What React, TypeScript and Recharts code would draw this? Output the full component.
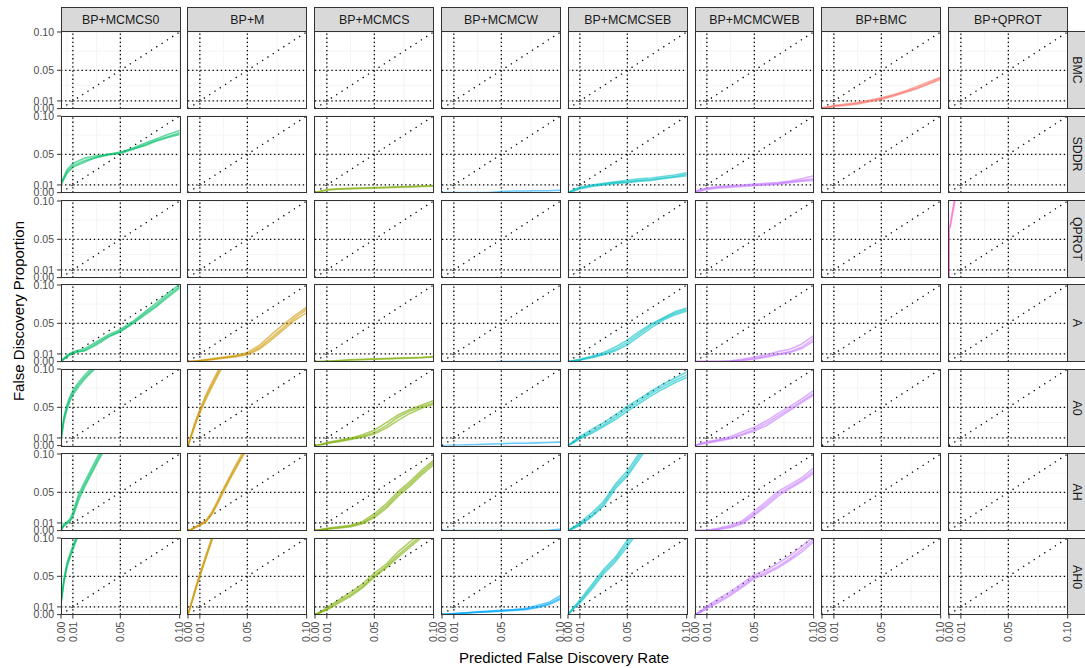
import React from 'react';
import { LineChart, Line, XAxis, YAxis, ReferenceLine } from 'recharts';

// facet labels
const methods = ['BP+MCMCS0', 'BP+M', 'BP+MCMCS', 'BP+MCMCW', 'BP+MCMCSEB', 'BP+MCMCWEB', 'BP+BMC', 'BP+QPROT'];
const scenarios = ['BMC', 'SDDR', 'QPROT', 'A', 'A0', 'AH', 'AH0'];
const methodColors = ['#00BE67', '#CD9600', '#7CAE00', '#00A9FF', '#00BFC4', '#C77CFF', '#F8766D', '#FF61CC'];

const axisTicks = [0, 0.01, 0.05, 0.1];
const majorGrid = [0, 0.01, 0.05, 0.1];
const minorGrid = [0.005, 0.03, 0.075];
const guideLevels = [0.01, 0.05];

// predicted FDR (x) grids
const fdrGrid = [0, 0.005, 0.01, 0.02, 0.03, 0.04, 0.05, 0.06, 0.07, 0.08, 0.09, 0.1];
const fdrSteep = [0, 0.0025, 0.005, 0.0075, 0.01, 0.015, 0.02, 0.025, 0.03, 0.035, 0.04, 0.045, 0.05];
const fdrQprot = [0, 0, 0.001, 0.002, 0.003, 0.004, 0.005];
const fdrTail = [0.045, 0.07, 0.1];

// false discovery proportion (y), one array per replicate
const bmcBmc = [
  [0.001, 0.002, 0.003, 0.005, 0.007, 0.010, 0.013, 0.017, 0.022, 0.027, 0.033, 0.040],
  [0.001, 0.002, 0.004, 0.006, 0.008, 0.011, 0.014, 0.018, 0.023, 0.029, 0.035, 0.041],
  [0.000, 0.001, 0.003, 0.004, 0.006, 0.009, 0.012, 0.016, 0.021, 0.026, 0.032, 0.038],
];

const sddrMcmcs0 = [
  [0.010, 0.027, 0.035, 0.042, 0.046, 0.049, 0.051, 0.056, 0.062, 0.068, 0.073, 0.078],
  [0.012, 0.030, 0.038, 0.045, 0.048, 0.050, 0.052, 0.058, 0.064, 0.070, 0.076, 0.081],
  [0.011, 0.025, 0.033, 0.040, 0.046, 0.050, 0.053, 0.057, 0.061, 0.067, 0.072, 0.076],
];
const sddrMcmcs = [
  [0, 0.002, 0.004, 0.005, 0.0055, 0.006, 0.0065, 0.007, 0.0075, 0.008, 0.0085, 0.009],
  [0, 0.0015, 0.003, 0.0045, 0.005, 0.0055, 0.006, 0.0065, 0.007, 0.0075, 0.008, 0.0085],
];
const sddrMcmcw = [
  [0, 0, 0, 0, 0, 0, 0.0015, 0.002, 0.002, 0.0025, 0.0025, 0.003],
];
const sddrMcmcseb = [
  [0, 0.003, 0.006, 0.009, 0.011, 0.013, 0.014, 0.016, 0.017, 0.019, 0.021, 0.024],
  [0, 0.004, 0.007, 0.010, 0.012, 0.014, 0.016, 0.018, 0.019, 0.021, 0.023, 0.026],
  [0, 0.002, 0.005, 0.008, 0.010, 0.012, 0.013, 0.015, 0.016, 0.018, 0.020, 0.022],
];
const sddrMcmcweb = [
  [0.001, 0.003, 0.005, 0.007, 0.008, 0.009, 0.010, 0.011, 0.012, 0.014, 0.016, 0.018],
  [0.002, 0.004, 0.006, 0.008, 0.009, 0.010, 0.011, 0.012, 0.013, 0.015, 0.018, 0.022],
  [0.001, 0.002, 0.004, 0.006, 0.007, 0.008, 0.009, 0.010, 0.011, 0.013, 0.015, 0.016],
];

const qprotQprot = [
  [0, 0.064, 0.066, 0.075, 0.084, 0.092, 0.101],
  [0, 0.066, 0.068, 0.078, 0.087, 0.096, 0.105],
];

const aMcmcs0 = [
  [0, 0.006, 0.011, 0.015, 0.024, 0.033, 0.040, 0.050, 0.062, 0.073, 0.086, 0.098],
  [0.001, 0.008, 0.013, 0.017, 0.026, 0.035, 0.042, 0.052, 0.064, 0.076, 0.089, 0.101],
  [0, 0.007, 0.012, 0.014, 0.022, 0.032, 0.039, 0.049, 0.060, 0.071, 0.084, 0.096],
];
const aM = [
  [0, 0.0005, 0.001, 0.003, 0.005, 0.007, 0.010, 0.018, 0.031, 0.044, 0.057, 0.068],
  [0, 0.0005, 0.0015, 0.0035, 0.006, 0.008, 0.012, 0.021, 0.035, 0.048, 0.060, 0.071],
  [0, 0.0005, 0.001, 0.0025, 0.0045, 0.0065, 0.009, 0.016, 0.028, 0.041, 0.054, 0.064],
];
const aMcmcs = [
  [0, 0, 0.0003, 0.001, 0.002, 0.0025, 0.003, 0.0035, 0.004, 0.0045, 0.005, 0.006],
  [0, 0, 0.0005, 0.0015, 0.0025, 0.003, 0.0035, 0.004, 0.0045, 0.005, 0.0055, 0.0065],
];
const aMcmcw = [[0, 0, 0]];
const aMcmcseb = [
  [0, 0.001, 0.002, 0.006, 0.010, 0.016, 0.025, 0.036, 0.047, 0.056, 0.063, 0.068],
  [0, 0.0015, 0.003, 0.007, 0.012, 0.019, 0.028, 0.039, 0.049, 0.057, 0.065, 0.070],
  [0, 0.001, 0.002, 0.005, 0.009, 0.014, 0.022, 0.033, 0.044, 0.054, 0.061, 0.066],
];
const aMcmcweb = [
  [0, 0, 0, 0, 0.0005, 0.002, 0.004, 0.007, 0.010, 0.013, 0.019, 0.030],
  [0, 0, 0, 0, 0.001, 0.003, 0.006, 0.009, 0.013, 0.016, 0.023, 0.034],
  [0, 0, 0, 0, 0.0005, 0.0015, 0.003, 0.006, 0.009, 0.012, 0.017, 0.027],
];

const a0Mcmcs0 = [
  [0.008, 0.035, 0.050, 0.061, 0.069, 0.080, 0.089, 0.097, 0.105, 0.112, 0.119, 0.126, 0.133],
  [0.010, 0.038, 0.053, 0.064, 0.072, 0.083, 0.092, 0.100, 0.108, 0.115, 0.122, 0.129, 0.136],
  [0.006, 0.032, 0.047, 0.058, 0.066, 0.077, 0.087, 0.095, 0.102, 0.109, 0.116, 0.123, 0.130],
];
const a0M = [
  [0, 0.012, 0.024, 0.035, 0.045, 0.063, 0.079, 0.094, 0.108, 0.121, 0.133, 0.145, 0.157],
  [0, 0.013, 0.026, 0.037, 0.047, 0.066, 0.082, 0.097, 0.111, 0.124, 0.136, 0.148, 0.160],
  [0, 0.011, 0.022, 0.033, 0.043, 0.060, 0.076, 0.091, 0.105, 0.118, 0.130, 0.142, 0.154],
];
const a0Mcmcs = [
  [0, 0.001, 0.003, 0.006, 0.009, 0.012, 0.017, 0.026, 0.037, 0.045, 0.051, 0.056],
  [0, 0.0015, 0.004, 0.007, 0.010, 0.014, 0.020, 0.030, 0.040, 0.047, 0.053, 0.059],
  [0, 0.001, 0.003, 0.005, 0.008, 0.011, 0.015, 0.023, 0.033, 0.042, 0.049, 0.054],
];
const a0Mcmcw = [
  [0, 0, 0.0005, 0.001, 0.0015, 0.002, 0.0025, 0.003, 0.003, 0.0035, 0.004, 0.0045],
];
const a0Mcmcseb = [
  [0, 0.005, 0.010, 0.018, 0.027, 0.037, 0.048, 0.058, 0.068, 0.077, 0.085, 0.092],
  [0, 0.006, 0.012, 0.021, 0.030, 0.040, 0.051, 0.061, 0.071, 0.080, 0.088, 0.096],
  [0, 0.004, 0.009, 0.016, 0.025, 0.034, 0.045, 0.055, 0.065, 0.074, 0.082, 0.089],
];
const a0Mcmcweb = [
  [0, 0.002, 0.004, 0.007, 0.010, 0.015, 0.021, 0.029, 0.039, 0.048, 0.058, 0.068],
  [0, 0.003, 0.005, 0.008, 0.012, 0.018, 0.024, 0.032, 0.042, 0.051, 0.061, 0.072],
  [0, 0.002, 0.003, 0.006, 0.009, 0.014, 0.019, 0.026, 0.036, 0.046, 0.056, 0.066],
];

const ahMcmcs0 = [
  [0.001, 0.007, 0.010, 0.013, 0.020, 0.044, 0.060, 0.075, 0.090, 0.104, 0.118, 0.132, 0.146],
  [0.002, 0.009, 0.011, 0.015, 0.024, 0.048, 0.064, 0.079, 0.094, 0.108, 0.122, 0.136, 0.150],
  [0, 0.006, 0.009, 0.012, 0.018, 0.040, 0.057, 0.072, 0.087, 0.101, 0.115, 0.129, 0.143],
];
const ahM = [
  [0, 0.001, 0.003, 0.005, 0.007, 0.012, 0.022, 0.037, 0.053, 0.068, 0.082, 0.096, 0.110],
  [0, 0.0015, 0.004, 0.006, 0.008, 0.013, 0.024, 0.039, 0.055, 0.070, 0.085, 0.099, 0.113],
  [0, 0.001, 0.003, 0.005, 0.007, 0.011, 0.021, 0.035, 0.051, 0.066, 0.080, 0.094, 0.107],
];
const ahMcmcs = [
  [0, 0.001, 0.002, 0.004, 0.006, 0.010, 0.019, 0.032, 0.048, 0.061, 0.076, 0.089],
  [0, 0.0015, 0.003, 0.005, 0.007, 0.012, 0.022, 0.035, 0.051, 0.064, 0.079, 0.092],
  [0, 0.001, 0.002, 0.003, 0.005, 0.009, 0.017, 0.029, 0.045, 0.058, 0.073, 0.086],
];
const ahMcmcw = [
  [0, 0, 0, 0, 0, 0, 0, 0, 0, 0, 0.0005, 0.002],
];
const ahMcmcseb = [
  [0, 0.004, 0.008, 0.020, 0.035, 0.058, 0.074, 0.097, 0.120, 0.140, 0.160, 0.180],
  [0, 0.005, 0.010, 0.023, 0.038, 0.061, 0.078, 0.101, 0.124, 0.145, 0.165, 0.185],
  [0, 0.003, 0.007, 0.018, 0.032, 0.055, 0.071, 0.093, 0.116, 0.136, 0.156, 0.176],
];
const ahMcmcweb = [
  [0, 0, 0, 0.002, 0.005, 0.011, 0.022, 0.035, 0.048, 0.057, 0.066, 0.078],
  [0, 0, 0.0005, 0.003, 0.007, 0.013, 0.025, 0.038, 0.051, 0.060, 0.069, 0.082],
  [0, 0, 0, 0.0015, 0.004, 0.009, 0.020, 0.032, 0.045, 0.055, 0.064, 0.075],
];

const ah0Mcmcs0 = [
  [0.015, 0.044, 0.064, 0.076, 0.087, 0.107, 0.125, 0.140, 0.155, 0.170, 0.185, 0.200, 0.215],
  [0.017, 0.047, 0.067, 0.079, 0.090, 0.110, 0.128, 0.143, 0.158, 0.173, 0.188, 0.203, 0.218],
  [0.014, 0.042, 0.062, 0.074, 0.085, 0.105, 0.122, 0.137, 0.152, 0.167, 0.182, 0.197, 0.212],
];
const ah0M = [
  [0, 0.013, 0.026, 0.039, 0.051, 0.075, 0.098, 0.120, 0.140, 0.160, 0.180, 0.200, 0.220],
  [0, 0.014, 0.028, 0.041, 0.053, 0.077, 0.100, 0.122, 0.142, 0.162, 0.182, 0.202, 0.222],
  [0, 0.012, 0.025, 0.038, 0.050, 0.073, 0.096, 0.118, 0.138, 0.158, 0.178, 0.198, 0.218],
];
const ah0Mcmcs = [
  [0, 0.003, 0.007, 0.017, 0.026, 0.037, 0.051, 0.063, 0.078, 0.091, 0.104, 0.117],
  [0, 0.004, 0.009, 0.019, 0.029, 0.040, 0.054, 0.066, 0.082, 0.095, 0.108, 0.121],
  [0, 0.003, 0.006, 0.015, 0.024, 0.035, 0.049, 0.061, 0.075, 0.088, 0.101, 0.114],
];
const ah0Mcmcw = [
  [0, 0.0005, 0.001, 0.002, 0.003, 0.004, 0.005, 0.006, 0.007, 0.010, 0.014, 0.022],
  [0, 0.001, 0.0015, 0.0025, 0.0035, 0.0045, 0.0055, 0.0065, 0.008, 0.012, 0.016, 0.025],
  [0, 0.0005, 0.001, 0.002, 0.003, 0.0035, 0.0045, 0.0055, 0.0065, 0.009, 0.013, 0.020],
];
const ah0Mcmcseb = [
  [0, 0.009, 0.017, 0.036, 0.056, 0.072, 0.093, 0.115, 0.135, 0.155, 0.175, 0.195],
  [0, 0.010, 0.019, 0.039, 0.059, 0.075, 0.097, 0.119, 0.139, 0.159, 0.179, 0.199],
  [0, 0.008, 0.015, 0.033, 0.053, 0.069, 0.089, 0.111, 0.131, 0.151, 0.171, 0.191],
];
const ah0Mcmcweb = [
  [0, 0.004, 0.009, 0.018, 0.027, 0.038, 0.049, 0.055, 0.063, 0.073, 0.085, 0.098],
  [0, 0.005, 0.011, 0.021, 0.030, 0.041, 0.052, 0.058, 0.067, 0.077, 0.089, 0.102],
  [0, 0.003, 0.008, 0.016, 0.025, 0.036, 0.047, 0.053, 0.061, 0.071, 0.082, 0.095],
];

type PanelData = { fdr: number[]; reps: number[][] };

const panelData: Record<string, PanelData> = {
  'BMC|BP+BMC': { fdr: fdrGrid, reps: bmcBmc },
  'SDDR|BP+MCMCS0': { fdr: fdrGrid, reps: sddrMcmcs0 },
  'SDDR|BP+MCMCS': { fdr: fdrGrid, reps: sddrMcmcs },
  'SDDR|BP+MCMCW': { fdr: fdrGrid, reps: sddrMcmcw },
  'SDDR|BP+MCMCSEB': { fdr: fdrGrid, reps: sddrMcmcseb },
  'SDDR|BP+MCMCWEB': { fdr: fdrGrid, reps: sddrMcmcweb },
  'QPROT|BP+QPROT': { fdr: fdrQprot, reps: qprotQprot },
  'A|BP+MCMCS0': { fdr: fdrGrid, reps: aMcmcs0 },
  'A|BP+M': { fdr: fdrGrid, reps: aM },
  'A|BP+MCMCS': { fdr: fdrGrid, reps: aMcmcs },
  'A|BP+MCMCW': { fdr: fdrTail, reps: aMcmcw },
  'A|BP+MCMCSEB': { fdr: fdrGrid, reps: aMcmcseb },
  'A|BP+MCMCWEB': { fdr: fdrGrid, reps: aMcmcweb },
  'A0|BP+MCMCS0': { fdr: fdrSteep, reps: a0Mcmcs0 },
  'A0|BP+M': { fdr: fdrSteep, reps: a0M },
  'A0|BP+MCMCS': { fdr: fdrGrid, reps: a0Mcmcs },
  'A0|BP+MCMCW': { fdr: fdrGrid, reps: a0Mcmcw },
  'A0|BP+MCMCSEB': { fdr: fdrGrid, reps: a0Mcmcseb },
  'A0|BP+MCMCWEB': { fdr: fdrGrid, reps: a0Mcmcweb },
  'AH|BP+MCMCS0': { fdr: fdrSteep, reps: ahMcmcs0 },
  'AH|BP+M': { fdr: fdrSteep, reps: ahM },
  'AH|BP+MCMCS': { fdr: fdrGrid, reps: ahMcmcs },
  'AH|BP+MCMCW': { fdr: fdrGrid, reps: ahMcmcw },
  'AH|BP+MCMCSEB': { fdr: fdrGrid, reps: ahMcmcseb },
  'AH|BP+MCMCWEB': { fdr: fdrGrid, reps: ahMcmcweb },
  'AH0|BP+MCMCS0': { fdr: fdrSteep, reps: ah0Mcmcs0 },
  'AH0|BP+M': { fdr: fdrSteep, reps: ah0M },
  'AH0|BP+MCMCS': { fdr: fdrGrid, reps: ah0Mcmcs },
  'AH0|BP+MCMCW': { fdr: fdrGrid, reps: ah0Mcmcw },
  'AH0|BP+MCMCSEB': { fdr: fdrGrid, reps: ah0Mcmcseb },
  'AH0|BP+MCMCWEB': { fdr: fdrGrid, reps: ah0Mcmcweb },
};

// layout (px)
const PL = 61.3;
const PT = 31.7;
const PW = 118.7;
const PH = 76.6;
const DX = 126.77;
const DY = 84.43;
const STRIP_TOP = 7.3;
const M = 6;
const YW = 42;
const XH = 36;
const FONT = '"Liberation Sans", Arial, Helvetica, sans-serif';

const XTick = (props: any) => {
  const { x, y, payload } = props;
  return (
    <text
      x={x}
      y={y}
      transform={`rotate(-90 ${x} ${y})`}
      textAnchor="end"
      dy="0.35em"
      fill="#4D4D4D"
      fontSize={10.5}
      fontFamily={FONT}
    >
      {Number(payload.value).toFixed(2)}
    </text>
  );
};

const Panel = ({ r, c }: { r: number; c: number }) => {
  const showY = c === 0;
  const showX = r === scenarios.length - 1;
  const left = PL + c * DX - M - (showY ? YW : 0);
  const top = PT + r * DY - M;
  const width = PW + 2 * M + (showY ? YW : 0);
  const height = PH + 2 * M + (showX ? XH : 0);
  const entry = panelData[`${scenarios[r]}|${methods[c]}`];
  const color = methodColors[c];

  return (
    <div style={{ position: 'absolute', left, top }}>
      <LineChart width={width} height={height} margin={{ top: M, right: M, bottom: M, left: M }}>
        <XAxis
          type="number"
          dataKey="x"
          domain={[0, 0.1]}
          allowDataOverflow
          hide={!showX}
          height={XH}
          ticks={axisTicks}
          interval={0}
          axisLine={false}
          tickLine={{ stroke: '#333333' }}
          tickSize={4}
          tickMargin={3}
          tick={<XTick />}
        />
        <YAxis
          type="number"
          domain={[0, 0.1]}
          allowDataOverflow
          hide={!showY}
          width={YW}
          ticks={axisTicks}
          interval={0}
          axisLine={false}
          tickLine={{ stroke: '#333333' }}
          tickSize={4}
          tickMargin={3}
          tick={{ fill: '#4D4D4D', fontSize: 10.5, fontFamily: FONT }}
          tickFormatter={(v: number) => v.toFixed(2)}
        />
        {minorGrid.map(v => <ReferenceLine key={`mx${v}`} x={v} stroke="#F0F0F0" strokeWidth={0.8} />)}
        {minorGrid.map(v => <ReferenceLine key={`my${v}`} y={v} stroke="#F0F0F0" strokeWidth={0.8} />)}
        {majorGrid.map(v => <ReferenceLine key={`gx${v}`} x={v} stroke="#EBEBEB" strokeWidth={1.1} />)}
        {majorGrid.map(v => <ReferenceLine key={`gy${v}`} y={v} stroke="#EBEBEB" strokeWidth={1.1} />)}
        {guideLevels.map(v => (
          <ReferenceLine key={`dx${v}`} x={v} stroke="#000" strokeWidth={1.3} strokeDasharray="1.3 2.8" />
        ))}
        {guideLevels.map(v => (
          <ReferenceLine key={`dy${v}`} y={v} stroke="#000" strokeWidth={1.3} strokeDasharray="1.3 2.8" />
        ))}
        <ReferenceLine
          segment={[{ x: 0, y: 0 }, { x: 0.1, y: 0.1 }]}
          stroke="#000"
          strokeWidth={1.3}
          strokeDasharray="1.3 5"
        />
        {entry &&
          entry.reps.map((rep, i) => (
            <Line
              key={i}
              data={entry.fdr.map((x, j) => ({ x, y: rep[j] }))}
              dataKey="y"
              type="linear"
              stroke={color}
              strokeWidth={1.6}
              strokeOpacity={0.6}
              dot={false}
              activeDot={false}
              isAnimationActive={false}
            />
          ))}
      </LineChart>
    </div>
  );
};

const App: React.FC = () => {
  const cells: React.ReactNode[] = [];
  scenarios.forEach((_, r) => methods.forEach((__, c) => cells.push(<Panel key={`${r}-${c}`} r={r} c={c} />)));

  return (
    <div
      style={{
        position: 'absolute',
        left: 0,
        top: 0,
        width: 1085,
        height: 668,
        overflow: 'hidden',
        background: '#fff',
        fontFamily: FONT,
      }}
    >
      {cells}
      {/* panel borders */}
      {scenarios.map((_, r) =>
        methods.map((__, c) => (
          <div
            key={`b${r}-${c}`}
            style={{
              position: 'absolute',
              left: PL + c * DX - 0.6,
              top: PT + r * DY - 0.6,
              width: PW + 1.2,
              height: PH + 1.2,
              border: '1.2px solid #333333',
              boxSizing: 'border-box',
              pointerEvents: 'none',
            }}
          />
        ))
      )}
      {/* column strips */}
      {methods.map((m, c) => (
        <div
          key={`s${m}`}
          style={{
            position: 'absolute',
            left: PL + c * DX - 0.6,
            top: STRIP_TOP,
            width: PW + 1.2,
            height: PT - STRIP_TOP + 0.6,
            background: '#D9D9D9',
            border: '1.2px solid #333333',
            boxSizing: 'border-box',
            display: 'flex',
            alignItems: 'center',
            justifyContent: 'center',
            fontSize: 12.4,
            color: '#1A1A1A',
          }}
        >
          {m}
        </div>
      ))}
      {/* row strips */}
      {scenarios.map((s, r) => (
        <div
          key={`rs${s}`}
          style={{
            position: 'absolute',
            left: PL + 7 * DX + PW - 0.6,
            top: PT + r * DY - 0.6,
            width: 26,
            height: PH + 1.2,
            background: '#D9D9D9',
            border: '1.2px solid #333333',
            boxSizing: 'border-box',
          }}
        >
          <div
            style={{
              position: 'absolute',
              left: 9,
              top: '50%',
              transform: 'translate(-50%, -50%) rotate(90deg)',
              fontSize: 12.4,
              color: '#1A1A1A',
              whiteSpace: 'nowrap',
            }}
          >
            {s}
          </div>
        </div>
      ))}
      <div
        style={{
          position: 'absolute',
          left: 18,
          top: 311,
          transform: 'translate(-50%, -50%) rotate(-90deg)',
          fontSize: 15,
          color: '#000',
          whiteSpace: 'nowrap',
        }}
      >
        False Discovery Proportion
      </div>
      <div
        style={{
          position: 'absolute',
          left: 564,
          top: 657,
          transform: 'translate(-50%, -50%)',
          fontSize: 15,
          color: '#000',
          whiteSpace: 'nowrap',
        }}
      >
        Predicted False Discovery Rate
      </div>
    </div>
  );
};

export default App;
